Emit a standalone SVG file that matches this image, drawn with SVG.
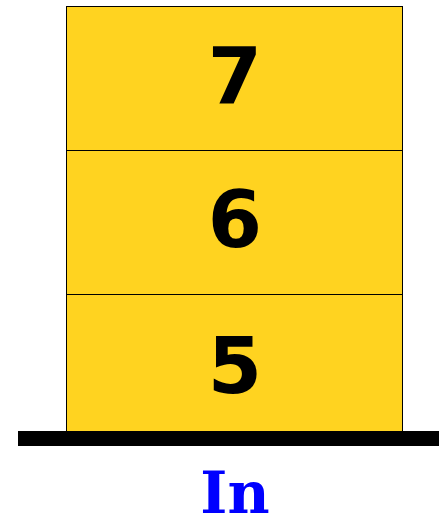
<svg xmlns="http://www.w3.org/2000/svg" width="439" height="521" viewBox="0 0 439 521">
<style>
.box{fill:#FFD320;stroke:#000;stroke-width:1}
.num{font-family:"DejaVu Sans",sans-serif;font-weight:bold;font-size:78px;text-anchor:middle;fill:#000}
.lbl{font-family:"DejaVu Serif",serif;font-weight:bold;font-size:58px;text-anchor:middle;fill:#0000FF}
</style>
<rect width="439" height="521" fill="#fff"/>
<g id="box7"><rect class="box" x="66.5" y="6.5" width="336" height="144"/><text class="num" x="235" y="103">7</text></g>
<g id="box6"><rect class="box" x="66.5" y="150.5" width="336" height="144"/><text class="num" x="235" y="247">6</text></g>
<g id="box5"><rect class="box" x="66.5" y="294.5" width="336" height="137"/><text class="num" x="235" y="393">5</text></g>
<g id="base"><rect x="18" y="431" width="421" height="15" fill="#000"/></g>
<g id="label"><text class="lbl" x="235" y="513">In</text></g>
<g id="connectors"/>
</svg>
